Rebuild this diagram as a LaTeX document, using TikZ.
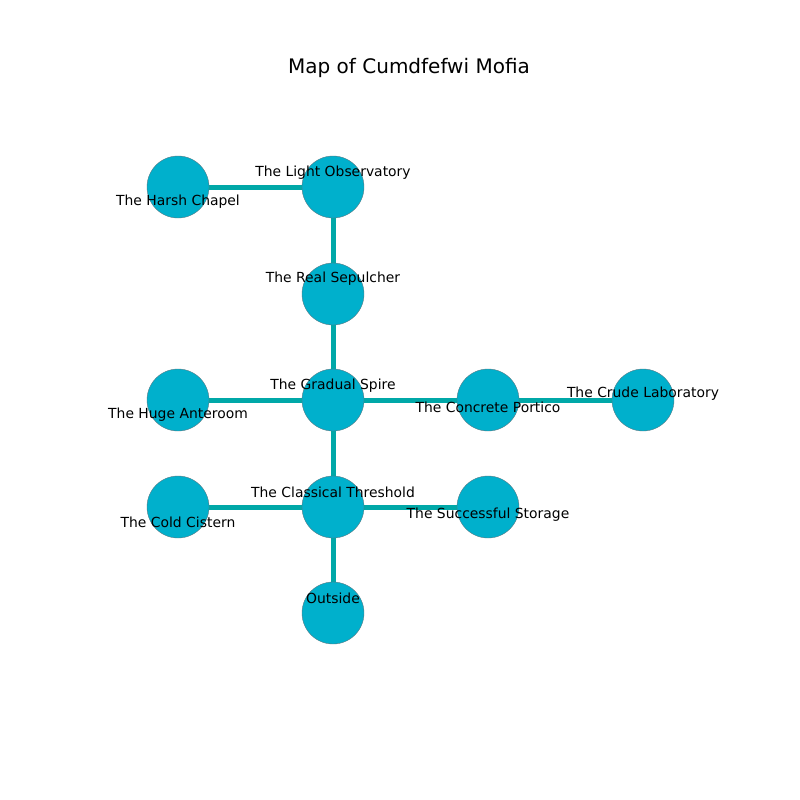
\documentclass[tikz,border=0pt]{standalone}
\usepackage{fontspec}
\setmainfont{DejaVu Sans}
\definecolor{nodecol}{RGB}{0,176,204}
\definecolor{edgecol}{RGB}{0,168,168}
\definecolor{rimcol}{RGB}{90,120,130}
\begin{document}
\begin{tikzpicture}[x=1pt,y=-1pt,
  room/.style={circle,fill=nodecol,draw=rimcol,line width=0.4pt,minimum size=62pt,inner sep=0pt},
  link/.style={draw=edgecol,line width=5pt},
  lbl/.style={font=\fontsize{13.9}{16}\selectfont,inner sep=0pt,anchor=center}]
\useasboundingbox (0,0) rectangle (800,800);
\node[font=\fontsize{20}{24}\selectfont] (title) at (409,68) {Map of Cumdfefwi Mofia};
% nodes
\coordinate (hc) at (178,187);
\coordinate (lo) at (333,187);
\coordinate (rs) at (333,294);
\coordinate (gs) at (333,400);
\coordinate (ha) at (178,400);
\coordinate (cp) at (488,400);
\coordinate (cl) at (643,400);
\coordinate (ct) at (333,507);
\coordinate (cc) at (178,507);
\coordinate (ss) at (488,507);
\coordinate (out) at (333,613);
% edges
\draw[link] (hc) -- (lo);
\draw[link] (lo) -- (rs);
\draw[link] (rs) -- (gs);
\draw[link] (ha) -- (gs);
\draw[link] (gs) -- (cp);
\draw[link] (cp) -- (cl);
\draw[link] (gs) -- (ct);
\draw[link] (cc) -- (ct);
\draw[link] (ct) -- (ss);
\draw[link] (ct) -- (out);
% circles
\foreach \c in {hc,lo,rs,gs,ha,cp,cl,ct,cc,ss,out}
  \node[room] (n\c) at (\c) {};
% labels
\node[lbl] (lhc) at (178,202) {The Harsh Chapel};
\node[lbl] (llo) at (333,172.5) {The Light Observatory};
\node[lbl] (lrs) at (333,278.5) {The Real Sepulcher};
\node[lbl] (lgs) at (333,385.5) {The Gradual Spire};
\node[lbl] (lha) at (178,415) {The Huge Anteroom};
\node[lbl] (lcp) at (488,407) {The Concrete Portico};
\node[lbl] (lcl) at (643,393.5) {The Crude Laboratory};
\node[lbl] (lct) at (333,492.5) {The Classical Threshold};
\node[lbl] (lcc) at (178,522) {The Cold Cistern};
\node[lbl] (lss) at (488,514.5) {The Successful Storage};
\node[lbl] (lout) at (333,598.5) {Outside};
\end{tikzpicture}
\end{document}
